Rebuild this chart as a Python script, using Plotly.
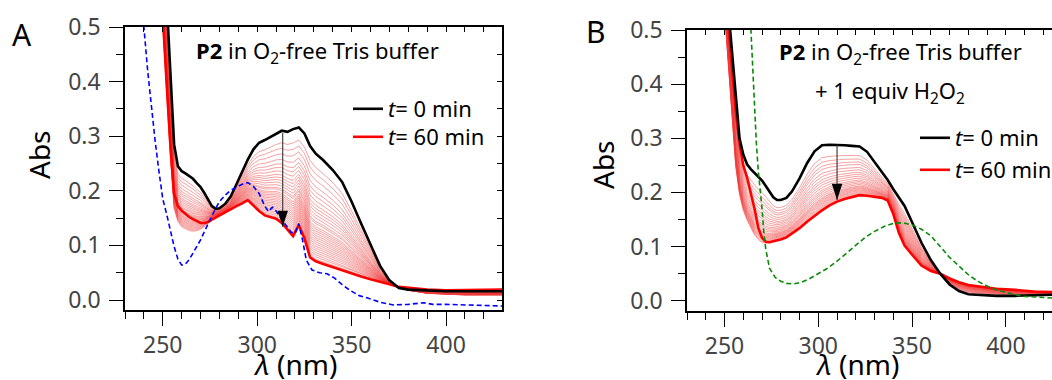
import plotly.graph_objects as go

W, H = 1052, 380

# ---------------- Panel A data ----------------
lam_A = [248, 250, 252, 254, 256, 258, 260, 262, 264, 266, 268, 270, 272, 274, 276, 278, 280,
         283, 286, 289, 292, 295, 298, 301, 304, 307, 310, 313, 316, 319, 322, 325, 328, 331,
         335, 340, 345, 350, 355, 360, 365, 370, 375, 380, 390, 400, 410, 420, 430]
black_A = [0.82, 0.68, 0.55, 0.42, 0.285, 0.245, 0.236, 0.232, 0.227, 0.222, 0.214, 0.207, 0.196,
           0.183, 0.172, 0.167, 0.168, 0.176, 0.19, 0.212, 0.236, 0.257, 0.276, 0.288, 0.293, 0.299,
           0.305, 0.31, 0.308, 0.313, 0.316, 0.305, 0.282, 0.268, 0.256, 0.238, 0.216, 0.18, 0.14,
           0.1, 0.063, 0.036, 0.022, 0.019, 0.017, 0.016, 0.016, 0.016, 0.016]
red_A = [0.68, 0.52, 0.40, 0.285, 0.195, 0.172, 0.164, 0.158, 0.152, 0.148, 0.144, 0.141, 0.141,
         0.143, 0.147, 0.151, 0.155, 0.16, 0.166, 0.172, 0.177, 0.183, 0.173, 0.163, 0.155, 0.152,
         0.149, 0.141, 0.13, 0.117, 0.137, 0.113, 0.078, 0.071, 0.066, 0.06, 0.054, 0.048, 0.043,
         0.038, 0.034, 0.029, 0.024, 0.022, 0.019, 0.018, 0.018, 0.018, 0.019]
# lowest edge of the family of intermediate traces
env_A = [0.62, 0.50, 0.38, 0.26, 0.165, 0.142, 0.132, 0.128, 0.125, 0.124, 0.125, 0.128, 0.133,
         0.14, 0.147, 0.151, 0.155, 0.16, 0.166, 0.172, 0.177, 0.183, 0.173, 0.163, 0.155, 0.152,
         0.149, 0.141, 0.13, 0.117, 0.137, 0.113, 0.078, 0.071, 0.066, 0.06, 0.054, 0.048, 0.043,
         0.038, 0.034, 0.029, 0.024, 0.018, 0.012, 0.010, 0.009, 0.009, 0.009]
# relative position of each intermediate trace (read at the arrow wavelength)
w_A = [0.13, 0.19, 0.25, 0.31, 0.36, 0.40, 0.44, 0.48, 0.51, 0.54, 0.57, 0.60, 0.63, 0.65, 0.68,
       0.70, 0.72, 0.74, 0.76, 0.78, 0.80, 0.82, 0.84, 0.86, 0.88, 0.90, 0.92, 0.94, 0.96, 0.98]

lam_blue = [238, 240, 242, 244, 246, 248, 250, 252, 254, 256, 258, 260, 262, 264, 266, 268, 270,
            272, 274, 276, 278, 280, 283, 286, 289, 292, 295, 298, 301, 304, 306, 308, 310, 312,
            315, 318, 320, 322, 324, 326, 329, 333, 337, 341, 345, 349, 354, 358, 365, 372, 380,
            388, 393, 400, 410, 420, 430]
blue_A = [0.62, 0.50, 0.42, 0.35, 0.29, 0.235, 0.185, 0.158, 0.125, 0.098, 0.075, 0.064, 0.066,
          0.074, 0.086, 0.098, 0.11, 0.125, 0.14, 0.155, 0.168, 0.18, 0.192, 0.201, 0.207, 0.212,
          0.215, 0.208, 0.195, 0.172, 0.162, 0.17, 0.163, 0.152, 0.138, 0.124, 0.122, 0.14, 0.11,
          0.073, 0.055, 0.05, 0.048, 0.04, 0.028, 0.018, 0.008, 0.004, -0.004, -0.009, -0.008,
          -0.005, -0.008, -0.008, -0.009, -0.01, -0.011]

arrow_A = dict(lam=313.5, top=0.306, tip=0.134)

# ---------------- Panel B data ----------------
lam_B = [249, 250, 252, 254, 256, 258, 260, 262, 264, 266, 268, 270, 272, 274, 276, 278, 280, 283,
         286, 290, 294, 298, 302, 306, 310, 314, 318, 322, 326, 330, 334, 337, 340, 343, 346, 350,
         355, 360, 365, 370, 375, 380, 386, 395, 405, 415, 425]
black_B = [0.66, 0.62, 0.535, 0.45, 0.365, 0.30, 0.27, 0.252, 0.243, 0.236, 0.228, 0.222, 0.212,
           0.201, 0.191, 0.186, 0.186, 0.19, 0.202, 0.226, 0.254, 0.276, 0.287, 0.288, 0.288, 0.287,
           0.286, 0.285, 0.275, 0.256, 0.238, 0.223, 0.206, 0.19, 0.175, 0.145, 0.107, 0.075, 0.05,
           0.03, 0.018, 0.012, 0.011, 0.009, 0.009, 0.01, 0.011]
red_B = [0.63, 0.59, 0.51, 0.43, 0.35, 0.29, 0.25, 0.228, 0.2, 0.17, 0.135, 0.116, 0.109, 0.108,
         0.11, 0.111, 0.113, 0.117, 0.124, 0.134, 0.146, 0.157, 0.167, 0.176, 0.183, 0.188, 0.192,
         0.195, 0.194, 0.192, 0.19, 0.185, 0.16, 0.125, 0.102, 0.085, 0.065, 0.055, 0.05, 0.041,
         0.034, 0.029, 0.026, 0.022, 0.02, 0.017, 0.016]
env_B = [0.58, 0.53, 0.43, 0.34, 0.245, 0.195, 0.166, 0.148, 0.133, 0.12, 0.112, 0.106, 0.105,
         0.106, 0.11, 0.111, 0.113, 0.117, 0.124, 0.134, 0.146, 0.157, 0.167, 0.176, 0.183, 0.188,
         0.192, 0.195, 0.194, 0.192, 0.19, 0.185, 0.16, 0.125, 0.102, 0.085, 0.065, 0.055, 0.05,
         0.041, 0.034, 0.029, 0.026, 0.022, 0.02, 0.017, 0.016]
w_B = [0.19, 0.26, 0.32, 0.37, 0.43, 0.48, 0.53, 0.57, 0.61, 0.65, 0.69, 0.72, 0.75, 0.78, 0.81,
       0.83, 0.85, 0.87, 0.89, 0.91, 0.93, 0.95, 0.97, 0.99]

lam_green = [262, 264, 265, 266, 267, 268, 269, 270, 271, 272, 274, 277, 280, 283, 287, 291, 295,
             300, 305, 310, 315, 320, 325, 330, 335, 340, 345, 350, 355, 360, 365, 370, 375, 380,
             385, 390, 395, 400, 405, 410, 418, 425]
green_B = [0.65, 0.50, 0.42, 0.34, 0.29, 0.24, 0.21, 0.17, 0.125, 0.095, 0.06, 0.043, 0.036, 0.032,
           0.031, 0.034, 0.04, 0.05, 0.06, 0.073, 0.088, 0.103, 0.117, 0.128, 0.137, 0.143, 0.144,
           0.14, 0.132, 0.12, 0.1, 0.08, 0.064, 0.048, 0.036, 0.027, 0.02, 0.015, 0.011, 0.008,
           0.006, 0.005]

arrow_B = dict(lam=310.0, top=0.288, tip=0.186)

x_major = [250, 300, 350, 400]
y_major = [0.0, 0.1, 0.2, 0.3, 0.4, 0.5]
y_labels = ["0.0", "0.1", "0.2", "0.3", "0.4", "0.5"]

FONT = "Noto Sans"
PINK = "rgba(238,60,60,0.6)"

fig = go.Figure()


def add_panel(xa, ya, lam, black, red, env, weights, lam_d, dashed, dcolor, arrow, lg0, lg60):
    for w in weights:
        yk = [b + w * (e - b) for b, e in zip(black, env)]
        fig.add_trace(go.Scatter(x=lam, y=yk, mode="lines", xaxis=xa, yaxis=ya,
                                 line=dict(color=PINK, width=0.8), showlegend=False,
                                 hoverinfo="skip"))
    fig.add_trace(go.Scatter(x=lam, y=red, mode="lines", xaxis=xa, yaxis=ya,
                             line=dict(color="#ff0000", width=2.6),
                             name="<i>t</i>= 60 min", legend=lg60))
    fig.add_trace(go.Scatter(x=lam, y=black, mode="lines", xaxis=xa, yaxis=ya,
                             line=dict(color="#000000", width=2.6),
                             name="<i>t</i>= 0 min", legend=lg0))
    fig.add_trace(go.Scatter(x=lam_d, y=dashed, mode="lines", xaxis=xa, yaxis=ya,
                             line=dict(color=dcolor, width=1.6, dash="5px,3px"),
                             showlegend=False))
    # arrow shaft and head
    fig.add_trace(go.Scatter(x=[arrow["lam"], arrow["lam"]], y=[arrow["top"], arrow["tip"]],
                             mode="lines", xaxis=xa, yaxis=ya,
                             line=dict(color="#333333", width=1.1), showlegend=False,
                             hoverinfo="skip"))
    fig.add_trace(go.Scatter(x=[arrow["lam"]], y=[arrow["tip"]], mode="markers",
                             xaxis=xa, yaxis=ya,
                             marker=dict(symbol="arrow", angle=180, size=17, color="#000000",
                                         line=dict(width=0)),
                             showlegend=False, hoverinfo="skip"))


add_panel("x", "y", lam_A, black_A, red_A, env_A, w_A, lam_blue, blue_A, "#0000ff",
          arrow_A, "legend", "legend2")
add_panel("x2", "y2", lam_B, black_B, red_B, env_B, w_B, lam_green, green_B, "#0a8a0a",
          arrow_B, "legend3", "legend4")

# dummy traces so mirror axes (inward ticks) are drawn
fig.add_trace(go.Scatter(x=[None], y=[None], xaxis="x3", yaxis="y3", showlegend=False))
fig.add_trace(go.Scatter(x=[None], y=[None], xaxis="x4", yaxis="y2", showlegend=False))

xA = [125 / W, 502 / W]
xB = [687 / W, 1.0]
yA = [1 - 310 / H, 1 - 27 / H]
yB = [1 - 311 / H, 1 - 30 / H]
rxA = [230, 429.6]
rxB = [230, 424.6]
ryA = [-0.0183, 0.5]
ryB = [-0.019, 0.5]

tickfont = dict(family=FONT, size=23, color="#444444")
TITLE_SIZE = 28


def xaxis(domain, rng, anchor):
    return dict(domain=domain, range=rng, anchor=anchor, showline=True, linecolor="black",
                linewidth=1.5, ticks="outside", ticklen=14, tickwidth=1.4, tickcolor="black",
                tickvals=x_major, ticktext=[str(v) for v in x_major], tickfont=tickfont,
                minor=dict(dtick=10, tick0=0, ticks="outside", ticklen=7, tickwidth=1.4,
                           tickcolor="black", showgrid=False),
                showgrid=False, zeroline=False)


def yaxis(domain, rng, anchor):
    return dict(domain=domain, range=rng, anchor=anchor, showline=True, linecolor="black",
                linewidth=1.5, ticks="outside", ticklen=14, tickwidth=1.4, tickcolor="black",
                tickvals=y_major, ticktext=y_labels, tickfont=tickfont, ticklabelstandoff=4,
                minor=dict(dtick=0.05, tick0=0, ticks="outside", ticklen=7, tickwidth=1.4,
                           tickcolor="black", showgrid=False),
                showgrid=False, zeroline=False)


def top_axis(over, rng, anchor):
    return dict(overlaying=over, side="top", anchor=anchor, range=rng, showline=True,
                linecolor="black", linewidth=1.5, ticks="inside", ticklen=5, tickwidth=1.2,
                tickcolor="black", dtick=10, tick0=0, showticklabels=False, showgrid=False,
                zeroline=False)


legend_common = dict(bgcolor="rgba(0,0,0,0)", borderwidth=0, xanchor="left", yanchor="middle",
                     font=dict(family=FONT, size=22, color="black"), itemwidth=30)

ann_font = dict(family=FONT, size=22, color="black")
letter_font = dict(family=FONT, size=30, color="black")
title_font = dict(family=FONT, size=TITLE_SIZE, color="black")


def paper_text(text, x, y, font, angle=0):
    return dict(text=text, x=x / W, y=1 - y / H, xref="paper", yref="paper", showarrow=False,
                xanchor="center", yanchor="middle", font=font, textangle=angle)


fig.update_layout(
    width=W, height=H,
    margin=dict(l=0, r=0, t=0, b=0, autoexpand=False),
    plot_bgcolor="white", paper_bgcolor="white",
    font=dict(family=FONT, color="black"),
    xaxis=xaxis(xA, rxA, "y"),
    yaxis=yaxis(yA, ryA, "x"),
    xaxis2=xaxis(xB, rxB, "y2"),
    yaxis2=yaxis(yB, ryB, "x2"),
    xaxis3=top_axis("x", rxA, "y3"),
    yaxis3=dict(overlaying="y", side="right", anchor="x3", range=ryA, showline=True,
                linecolor="black", linewidth=1.5, ticks="inside", ticklen=5, tickwidth=1.2,
                tickcolor="black", dtick=0.05, tick0=0, showticklabels=False, showgrid=False,
                zeroline=False),
    xaxis4=top_axis("x2", rxB, "y2"),
    legend=dict(x=348 / W, y=1 - 109 / H, **legend_common),
    legend2=dict(x=348 / W, y=1 - 137 / H, **legend_common),
    legend3=dict(x=915 / W, y=1 - 138 / H, **legend_common),
    legend4=dict(x=915 / W, y=1 - 170 / H, **legend_common),
    annotations=[
        paper_text("A", 22, 34, letter_font),
        paper_text("B", 596, 31, letter_font),
        paper_text("<b>P2</b> in O<sub>2</sub>-free Tris buffer", 317, 52, ann_font),
        paper_text("<b>P2</b> in O<sub>2</sub>-free Tris buffer", 900, 53, ann_font),
        paper_text("+ 1 equiv H<sub>2</sub>O<sub>2</sub>", 890, 92, ann_font),
        paper_text("<i>λ</i> (nm)", 295, 364, title_font),
        paper_text("<i>λ</i> (nm)", 857, 364, title_font),
        paper_text("Abs", 39, 155, title_font, -90),
        paper_text("Abs", 603, 165, title_font, -90),
    ],
)

fig.write_html("out.html")
